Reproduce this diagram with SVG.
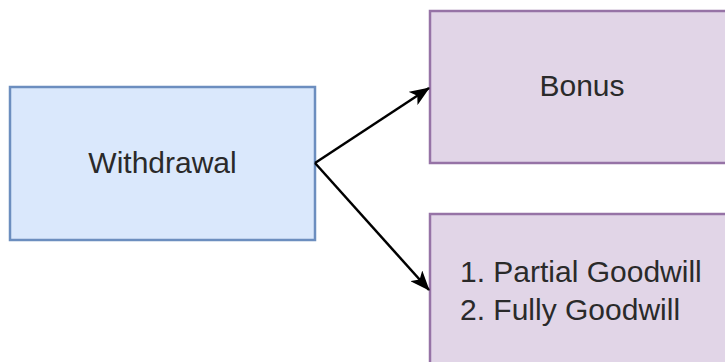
<svg xmlns="http://www.w3.org/2000/svg" width="725" height="362" viewBox="0 0 725 362">
<style>
.blue{fill:#dae8fc;stroke:#6c8ebf;stroke-width:2.5}
.purple{fill:#e1d5e7;stroke:#9673a6;stroke-width:2.5}
.lbl{font-family:"Liberation Sans",Arial,sans-serif;font-size:30px;fill:#2a2a2a}
.edge{fill:none;stroke:#000;stroke-width:2.5}
</style>
<defs>
<marker id="arrow" viewBox="0 0 20 16" refX="19" refY="8" markerWidth="20" markerHeight="16" markerUnits="userSpaceOnUse" orient="auto">
<path d="M0,0 L20,8 L0,16 L5,8 z" fill="#000"/>
</marker>
</defs>
<rect width="725" height="362" fill="#fff"/>
<g id="withdrawal">
<rect class="blue" x="10" y="87" width="305" height="153"/>
<text class="lbl" x="162.5" y="173" text-anchor="middle">Withdrawal</text>
</g>
<g id="bonus">
<rect class="purple" x="430" y="11" width="305" height="152"/>
<text class="lbl" x="582" y="96" text-anchor="middle">Bonus</text>
</g>
<g id="goodwill">
<rect class="purple" x="430" y="214" width="305" height="153"/>
<text class="lbl" x="460" y="282">1. Partial Goodwill</text>
<text class="lbl" x="460" y="320">2. Fully Goodwill</text>
</g>
<g id="connectors">
<path class="edge" d="M315,163 L429,88" marker-end="url(#arrow)"/>
<path class="edge" d="M315,163 L429,290" marker-end="url(#arrow)"/>
</g>
</svg>
